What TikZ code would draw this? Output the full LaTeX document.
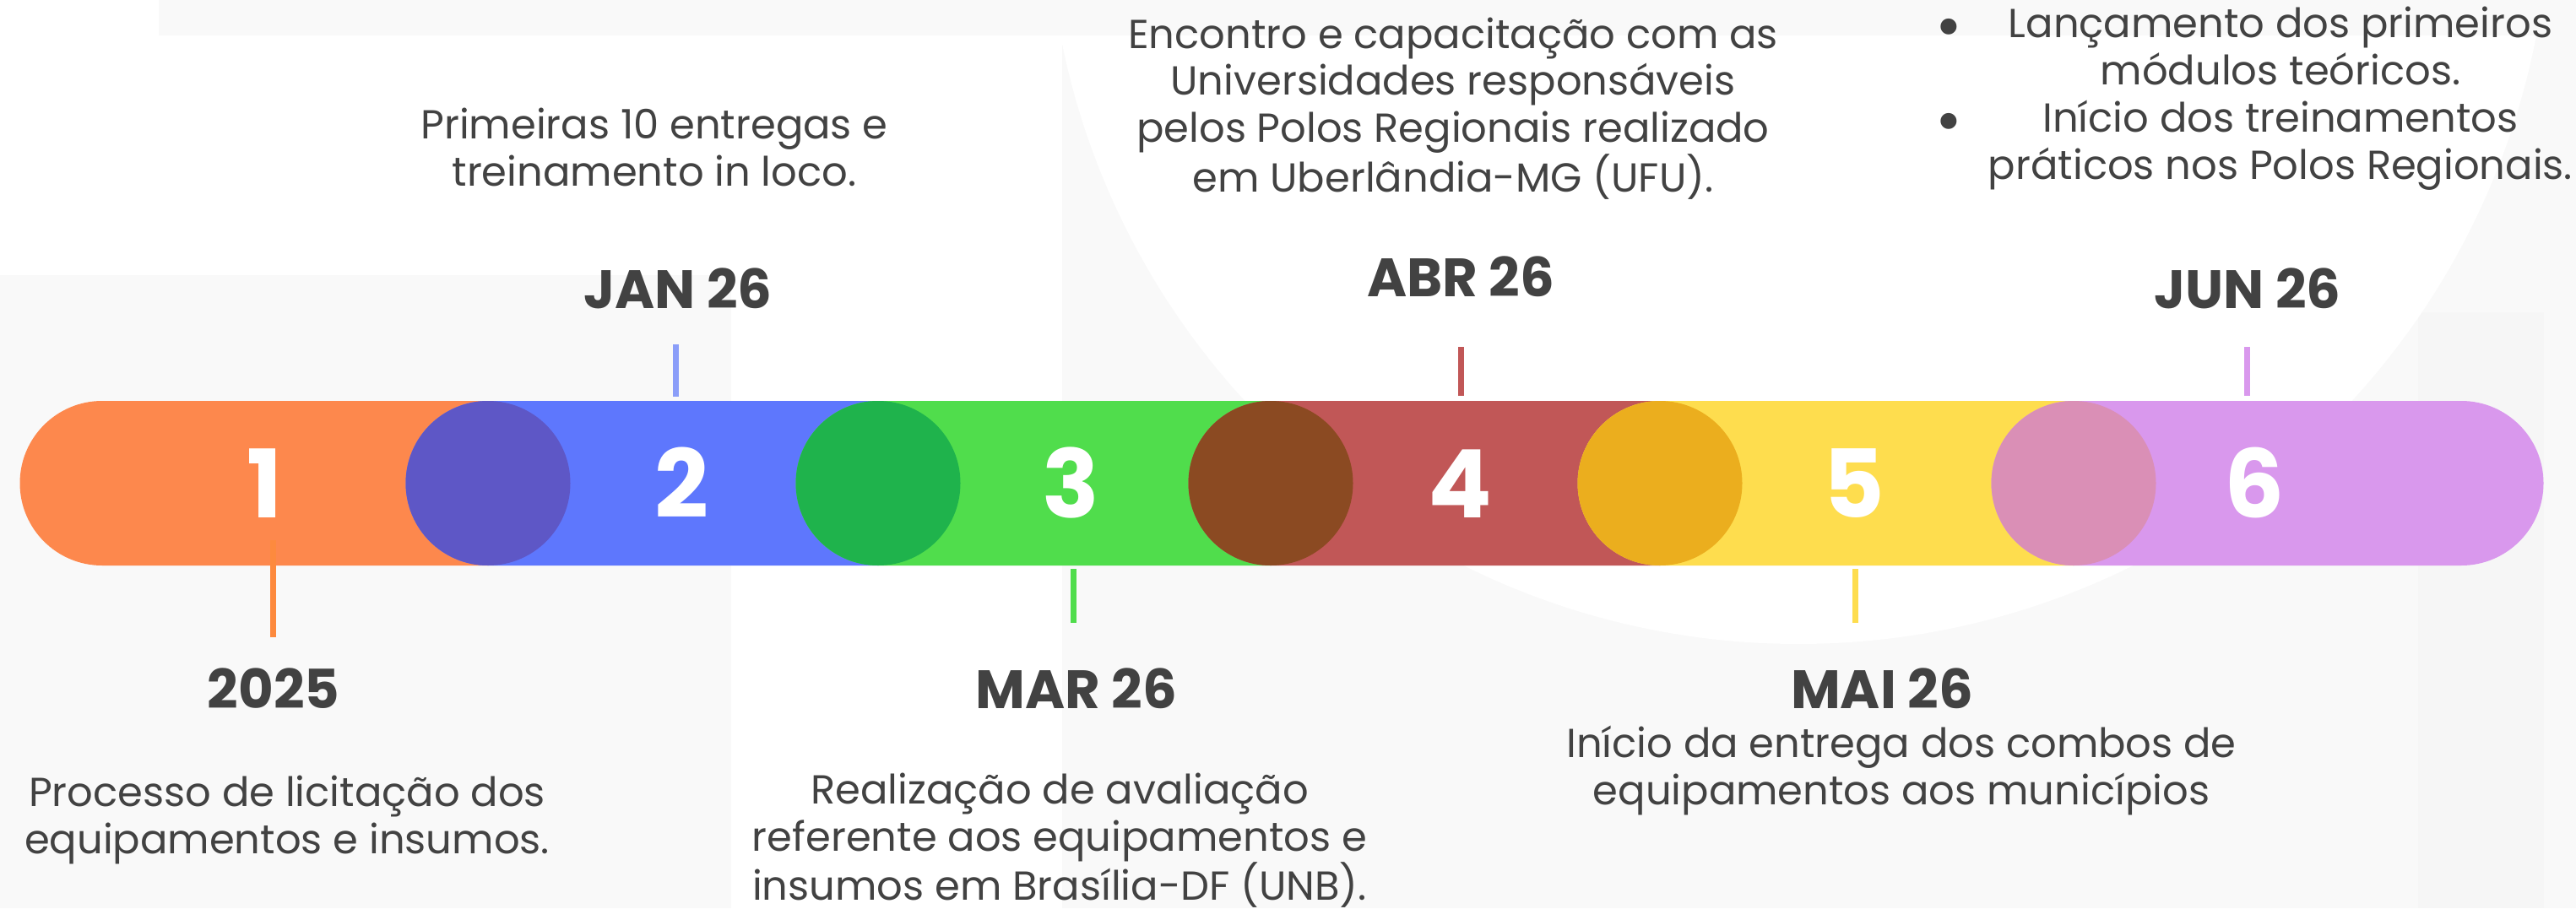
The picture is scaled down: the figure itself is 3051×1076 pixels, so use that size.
\documentclass[tikz,border=0pt]{standalone}
\usepackage{fontspec}
\setmainfont{Poppins}
\usetikzlibrary{shapes.misc}
\definecolor{txt}{HTML}{424242}
\definecolor{bgg}{HTML}{F9F9F9}
\definecolor{bgd}{HTML}{F6F6F6}
\definecolor{c1}{HTML}{FD884D}
\definecolor{c2}{HTML}{5E77FD}
\definecolor{c3}{HTML}{50DD4C}
\definecolor{c4}{HTML}{C15757}
\definecolor{c5}{HTML}{FEDD4E}
\definecolor{c6}{HTML}{D998ED}
\definecolor{o12}{HTML}{5E57C6}
\definecolor{o23}{HTML}{1FB34C}
\definecolor{o34}{HTML}{8B4A22}
\definecolor{o45}{HTML}{EBAE1E}
\definecolor{o56}{HTML}{DA8FB6}
\definecolor{t1}{HTML}{FD8A3E}
\definecolor{t2}{HTML}{8B9EF9}
\tikzset{
  pill/.style={rounded rectangle, inner sep=0pt, minimum height=195pt, fill=#1, draw=none},
  lap/.style={circle, inner sep=0pt, minimum size=195pt, fill=#1, draw=none},
  num/.style={anchor=base, text=white, font=\bfseries\fontsize{112}{112}\selectfont, inner sep=0pt},
  datelbl/.style={anchor=base, text=txt, font=\bfseries\fontsize{64}{64}\selectfont, inner sep=0pt},
  desc/.style={anchor=base, text=txt, align=center, font=\fontsize{48}{55.6}\selectfont, inner sep=0pt},
  bul/.style={anchor=base, text=txt, font=\fontsize{77}{77}\selectfont, inner sep=0pt},
  tick/.style={draw=#1, line width=7pt}
}
\begin{document}
\begin{tikzpicture}[x=1pt,y=-1pt]
\useasboundingbox (0,0) rectangle (3051,1076);
% background
\begin{scope}
\clip (0,0) rectangle (3051,1076);
\fill[bgg] (0,0) rectangle (3051,1076);
\fill[bgd] (2864,370) rectangle (3013,1076);
\fill[white] (0,0) rectangle (188,42);
\fill[white] (0,42) rectangle (1258,326);
\fill[white] (866,326) rectangle (1258,1076);
\fill[white] (2130,-127) circle[radius=890pt];
\fill[bgg] (188,0) rectangle (3015,42);
\end{scope}
% bar segments
\node[pill=c1, minimum width=652pt] (s1) at (349.5,572.5) {};
\node[pill=c2, minimum width=657pt] (s2) at (809,572.5) {};
\node[pill=c3, minimum width=660pt] (s3) at (1272.5,572.5) {};
\node[pill=c4, minimum width=656pt] (s4) at (1735.5,572.5) {};
\node[pill=c5, minimum width=685pt] (s5) at (2211,572.5) {};
\node[pill=c6, minimum width=654pt] (s6) at (2685.5,572.5) {};
\node[lap=o12] (j1) at (578,572.5) {};
\node[lap=o23] (j2) at (1040,572.5) {};
\node[lap=o34] (j3) at (1505,572.5) {};
\node[lap=o45] (j4) at (1966,572.5) {};
\node[lap=o56] (j5) at (2456,572.5) {};
% numbers
\node[num] (n1) at (314,613) {1};
\node[num] (n2) at (807,613) {2};
\node[num] (n3) at (1268,613) {3};
\node[num] (n4) at (1729,613) {4};
\node[num] (n5) at (2196,613) {5};
\node[num] (n6) at (2670,613) {6};
% ticks
\coordinate (a1) at (323,640); \coordinate (b1) at (323,755);
\coordinate (a2) at (800,408); \coordinate (b2) at (800,469.5);
\coordinate (a3) at (1271,674); \coordinate (b3) at (1271,738);
\coordinate (a4) at (1730,411); \coordinate (b4) at (1730,469);
\coordinate (a5) at (2197,674); \coordinate (b5) at (2197,738);
\coordinate (a6) at (2661,411); \coordinate (b6) at (2661,469);
\draw[tick=t1] (a1) -- (b1);
\draw[tick=t2] (a2) -- (b2);
\draw[tick=c3] (a3) -- (b3);
\draw[tick=c4] (a4) -- (b4);
\draw[tick=c5] (a5) -- (b5);
\draw[tick=c6] (a6) -- (b6);
% dates
\node[datelbl] (d2) at (803,365.5) {JAN 26};
\node[datelbl] (d4) at (1730,351) {ABR 26};
\node[datelbl] (d6) at (2662,365.5) {JUN 26};
\node[datelbl] (d1) at (324,839) {2025};
\node[datelbl] (d3) at (1275,839) {MAR 26};
\node[datelbl] (d5) at (2229,839) {MAI 26};
% descriptions (base anchor = last line baseline)
\node[desc] (e2) at (775,220) {Primeiras 10 entregas e\\treinamento in loco.};
\node[desc] (e4) at (1721,227) {Encontro e capacitação com as\\Universidades responsáveis\\pelos Polos Regionais realizado\\em Uberlândia-MG (UFU).};
\node[desc] (e6a) at (2701,100) {Lançamento dos primeiros\\módulos teóricos.};
\node[desc] (e6b) at (2701,212) {Início dos treinamentos\\práticos nos Polos Regionais.};
\node[bul] (bu1) at (2308,57.5) {•};
\node[bul] (bu2) at (2308,169.5) {•};
\node[desc] (e1) at (340,1011) {Processo de licitação dos\\equipamentos e insumos.};
\node[desc] (e3) at (1255,1066.5) {Realização de avaliação\\referente aos equipamentos e\\insumos em Brasília-DF (UNB).};
\node[desc] (e5) at (2252,953) {Início da entrega dos combos de\\equipamentos aos municípios};
\end{tikzpicture}
\end{document}
